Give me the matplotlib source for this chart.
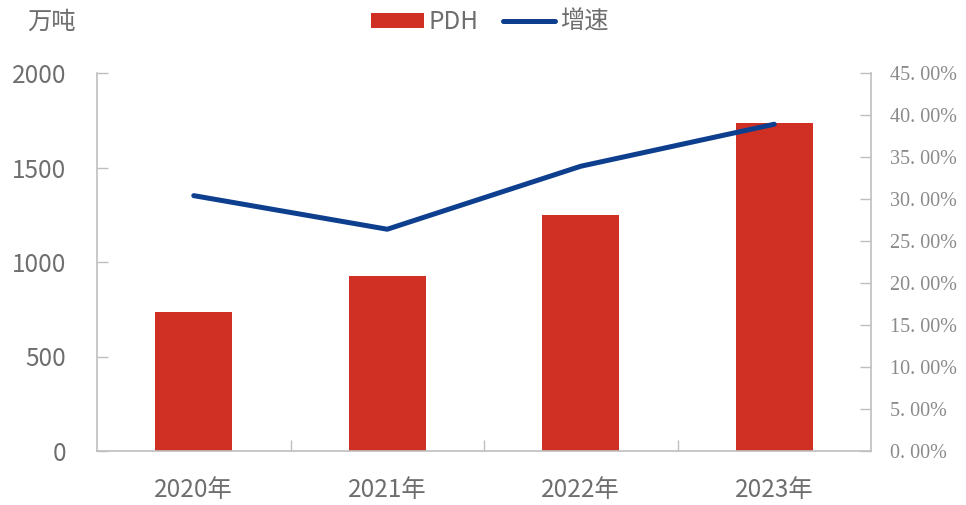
import matplotlib
matplotlib.use("Agg")
import matplotlib.pyplot as plt
from matplotlib.ticker import FixedLocator

plt.rcParams['font.family'] = ['Noto Sans CJK SC', 'DejaVu Sans']

categories = ['2020年', '2021年', '2022年', '2023年']
pdh = [735, 926, 1249, 1735]
growth = [30.4, 26.4, 33.9, 38.9]
left_ticks = [0, 500, 1000, 1500, 2000]
right_ticks = [0, 5, 10, 15, 20, 25, 30, 35, 40, 45]

bar_color = '#D03023'
line_color = '#0E3F8E'
text_color = '#6E6E6E'
spine_color = '#BFBFBF'

fig = plt.figure(figsize=(9.66, 5.05), dpi=100)
ax = fig.add_axes([97/966, 1-451/505, (871-97)/966, (451-73)/505])
ax2 = ax.twinx()

x = list(range(len(categories)))
bars = ax.bar(x, pdh, width=0.4, color=bar_color, zorder=2, label='PDH')
line, = ax2.plot(x, growth, color=line_color, lw=3.6, solid_capstyle='round', zorder=3, label='增速')

ax.set_xlim(-0.5, 3.5)
ax.set_ylim(0, 2000)
ax2.set_ylim(0, 45)

ax.set_yticks(left_ticks)
ax.set_yticklabels([str(v) for v in left_ticks], fontsize=17.5, color=text_color)
ax2.set_yticks(right_ticks)
ax2.set_yticklabels([f'{v}. 00%' for v in right_ticks], fontsize=14.5, color='#8A8A8A',
                    family=['Liberation Serif'])

ax.set_xticks(x)
ax.set_xticklabels(categories, fontsize=17.5, color=text_color)
ax.xaxis.set_minor_locator(FixedLocator([0.5, 1.5, 2.5]))
ax.tick_params(axis='x', which='major', length=0, pad=19)
ax.tick_params(axis='x', which='minor', direction='in', length=8, color=spine_color, width=1)
ax.tick_params(axis='y', direction='in', length=8, color=spine_color, width=1, pad=22)
ax2.tick_params(axis='y', direction='in', length=8, color=spine_color, width=1, pad=14)

for a in (ax, ax2):
    a.spines['top'].set_visible(False)
    for s in ('left', 'right', 'bottom'):
        a.spines[s].set_color(spine_color)
        a.spines[s].set_linewidth(1.2)
ax.spines['right'].set_visible(False)
ax2.spines['left'].set_visible(False)
ax2.spines['bottom'].set_visible(False)

fig.text(27/966, 1-22/505, '万吨', fontsize=17.5, color=text_color, va='center', ha='left')

fig.legend([bars, line], ['PDH', '增速'], loc='center', bbox_to_anchor=(490/966, 1-22/505),
           ncol=2, frameon=False, fontsize=17.5, labelcolor=text_color,
           handlelength=2.15, handleheight=0.58, columnspacing=1.0, handletextpad=0.2)

fig.savefig('out.png', dpi=100)
